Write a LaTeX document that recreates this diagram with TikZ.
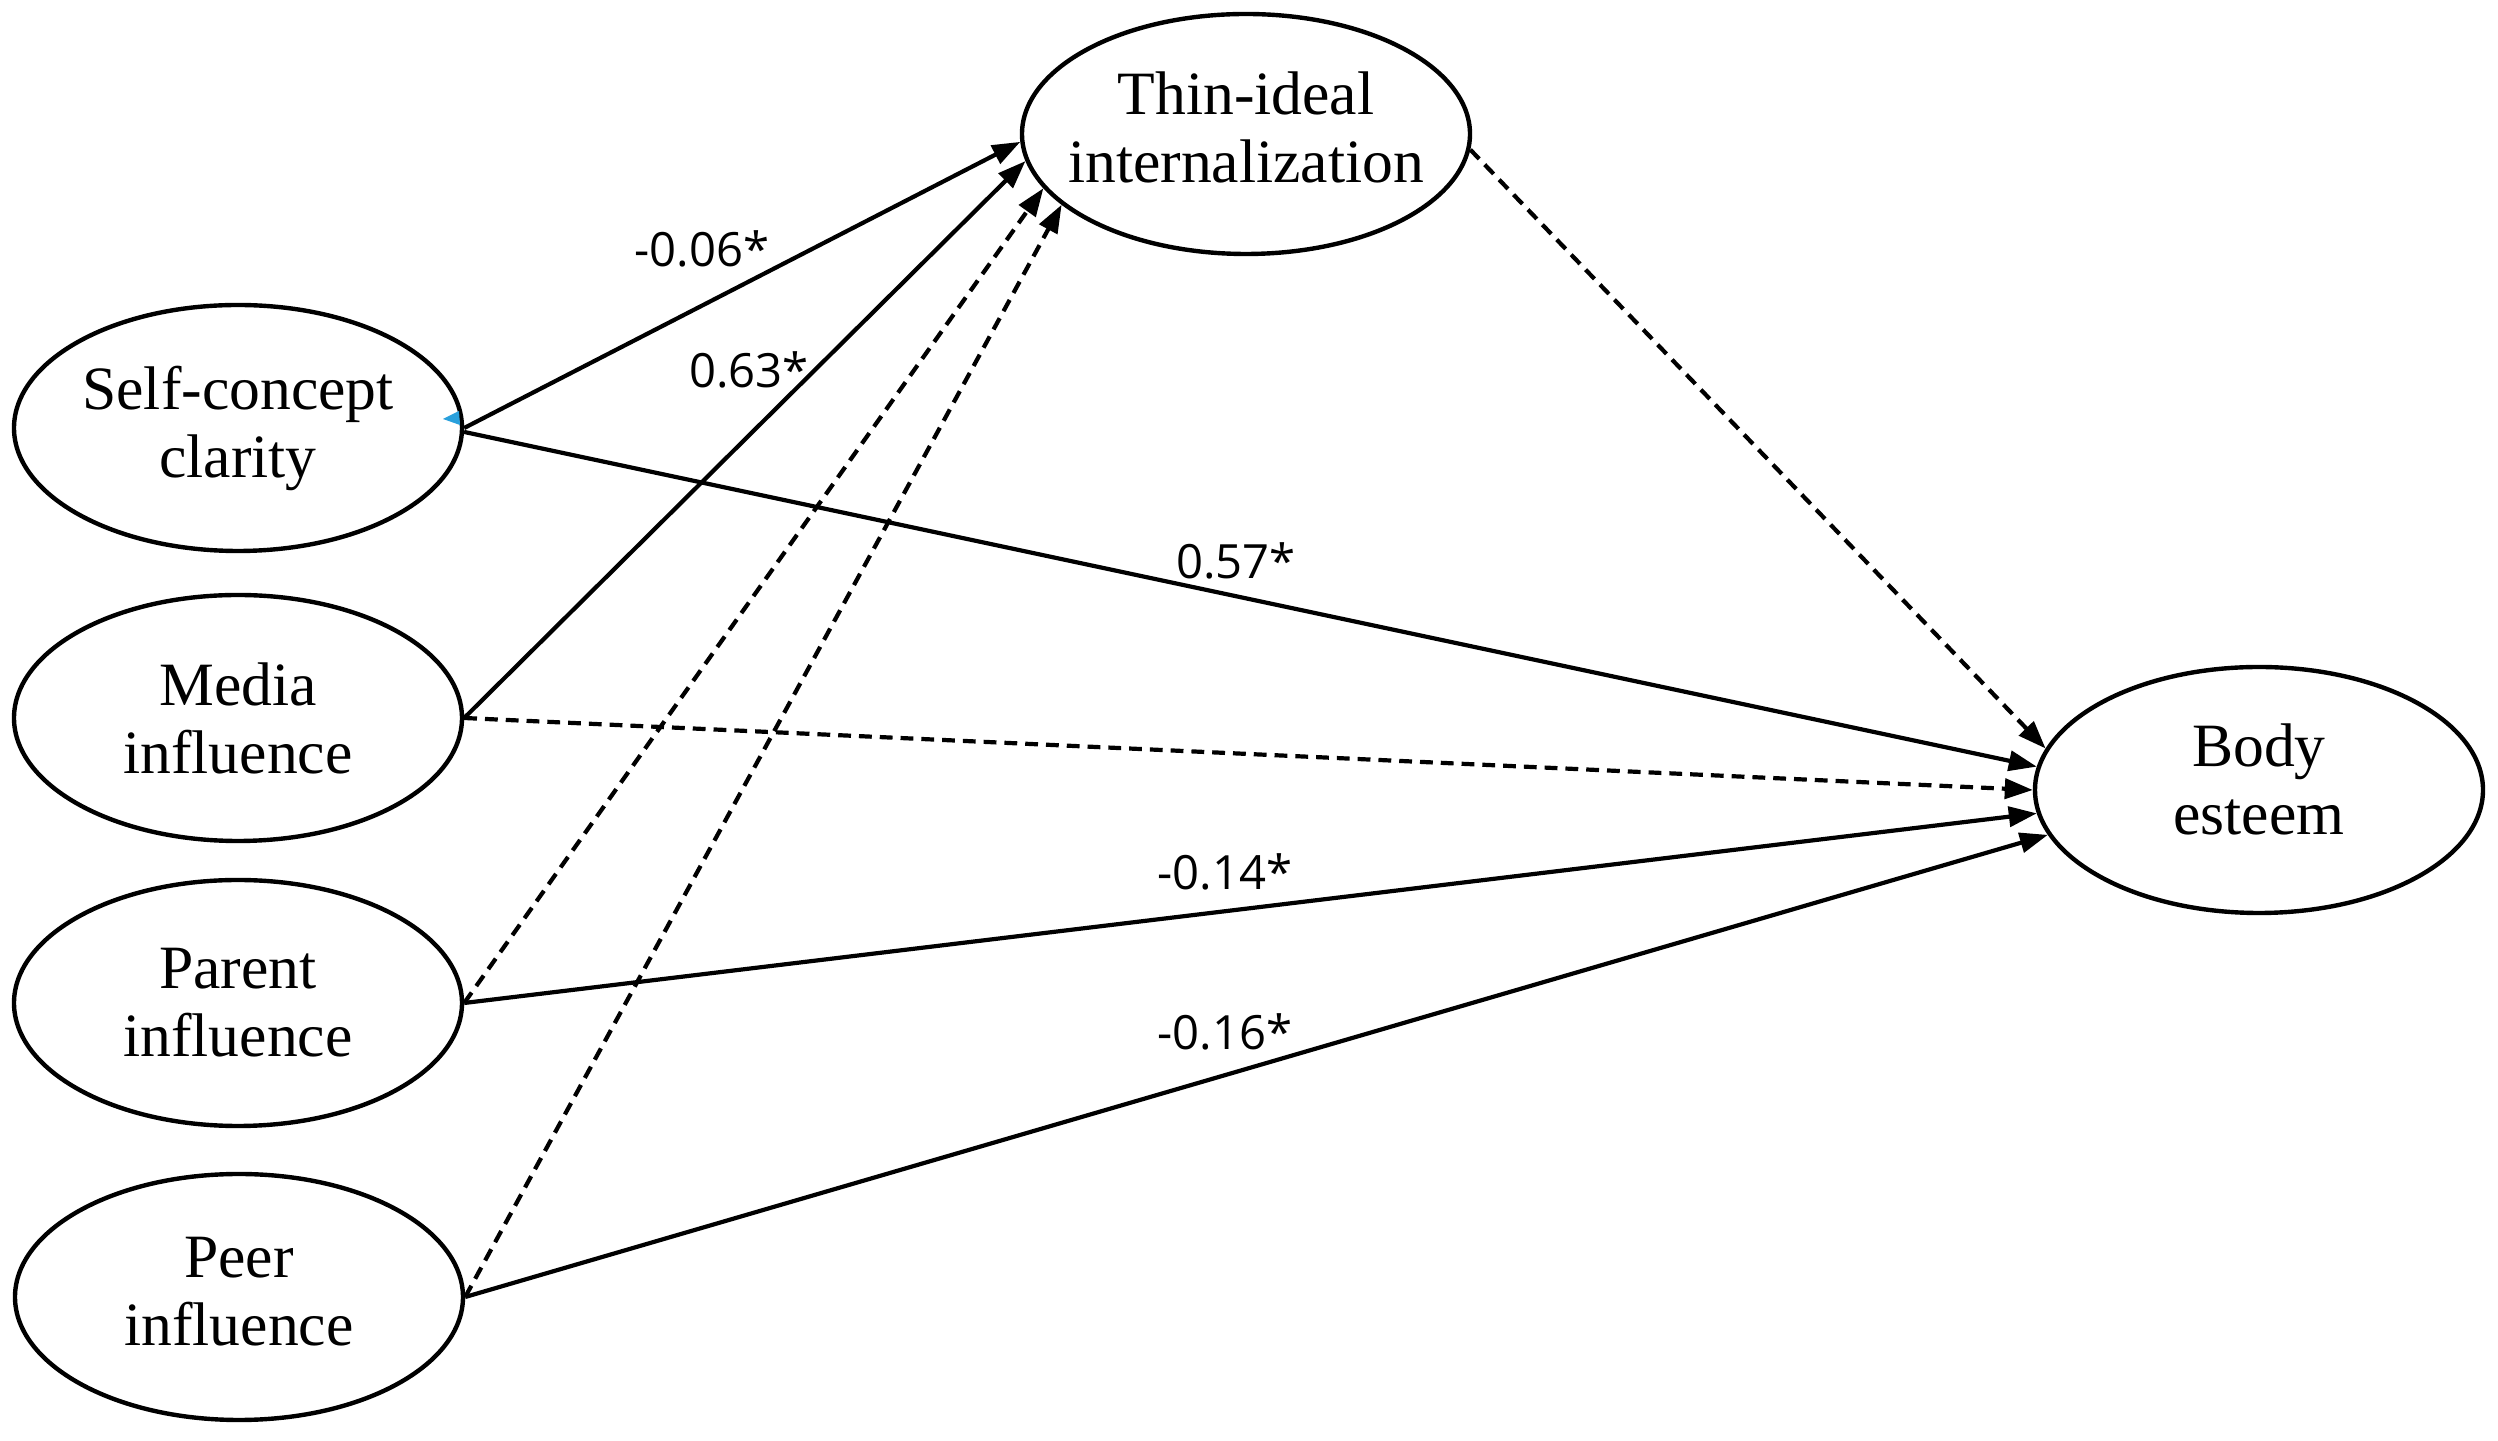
\documentclass[tikz,border=0pt]{standalone}
\usepackage{fontspec}
\setmainfont{Liberation Serif}
\newfontfamily\labfont{Open Sans}
\usetikzlibrary{shapes.geometric,arrows.meta}
\begin{document}
\begin{tikzpicture}[x=0.25pt,y=-0.25pt,
  latent/.style={ellipse,draw,line width=1.1pt,minimum width=112pt,minimum height=61.5pt,inner sep=-8pt,align=center,font=\fontsize{15.4}{17}\selectfont},
  sig/.style={line width=1.05pt,-{Triangle[length=7pt,width=5pt]}},
  nonsig/.style={sig,dash pattern=on 3.2pt off 2pt},
  coef/.style={font=\labfont\fontsize{11.8}{14}\selectfont,inner sep=0pt}]
\useasboundingbox (0,0) rectangle (2498,1441);
\fill[white] (0,0) rectangle (2498,1441);
% nodes
\node[latent] (sc) at (238,428) {Self-concept\\clarity};
\node[latent] (media) at (238,718) {Media\\influence};
\node[latent] (parent) at (238,1003) {Parent\\influence};
\node[latent,text depth=3pt] (peer) at (239,1297) {Peer\\influence};
\node[latent,minimum height=60pt,text depth=3.5pt] (thin) at (1246,134) {Thin-ideal\\internalization};
\node[latent,text depth=5.5pt] (body) at (2259,790) {Body\\esteem};
% paths to thin-ideal
\draw[sig] (sc.east) -- (thin.182);
\draw[sig] (media.east) -- (thin.187.5);
\draw[nonsig] (parent.east) -- (thin.195);
\draw[nonsig] (peer.east) -- (thin.201.5);
% paths to body esteem
\draw[nonsig] (thin.-4.4) -- (body.169.6);
\draw[sig] (sc.-1) -- (body.174);
\draw[nonsig] (media.east) -- (body.180);
\draw[sig] (parent.east) -- (body.186.8);
\draw[sig] (peer.east) -- (body.192.7);
% small blue mark
\fill[fill={rgb,255:red,41;green,160;blue,220}] (443,419) -- (459,411) -- (460,425) -- cycle;
% coefficients
\node[coef] (c1) at (702,249) {-0.06*};
\node[coef] (c2) at (749,370) {0.63*};
\node[coef] (c3) at (1236,561) {0.57*};
\node[coef] (c4) at (1225,872) {-0.14*};
\node[coef] (c5) at (1225,1032) {-0.16*};
\end{tikzpicture}
\end{document}
